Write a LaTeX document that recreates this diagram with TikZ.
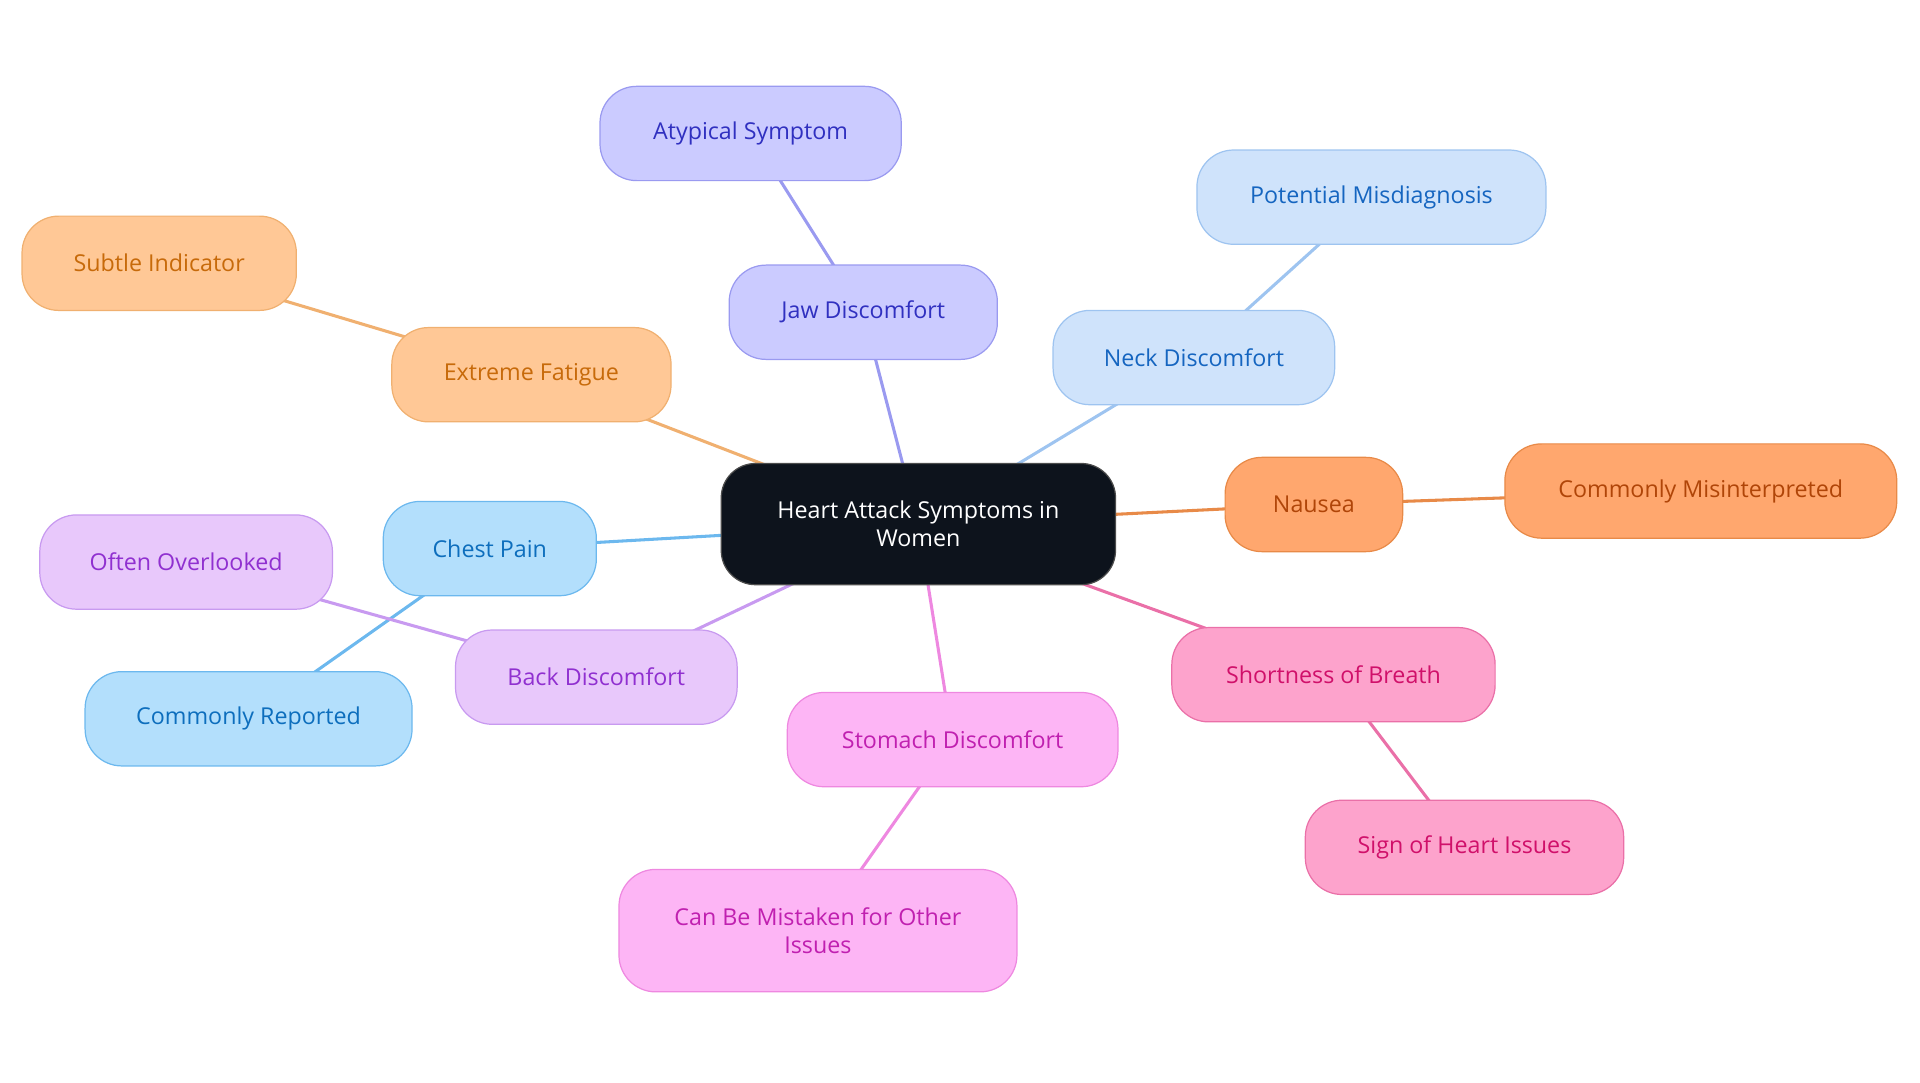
\documentclass[tikz,border=0pt]{standalone}
\usepackage{fontspec}
\setmainfont{Open Sans}
\begin{document}
\begin{tikzpicture}[x=1pt,y=-1pt,
 box/.style={draw,line width=1pt,rounded corners=30pt,minimum height=77pt,inner sep=0pt,align=center,font=\fontsize{19}{23}\selectfont},
 edge/.style={line width=2.5pt}]
\definecolor{oF}{HTML}{FFC896}\definecolor{oS}{HTML}{F0B070}\definecolor{oT}{HTML}{C76A0A}
\definecolor{vF}{HTML}{CBCBFF}\definecolor{vS}{HTML}{9A9AF0}\definecolor{vT}{HTML}{3030C0}
\definecolor{lF}{HTML}{CFE3FB}\definecolor{lS}{HTML}{9EC4F0}\definecolor{lT}{HTML}{1565C0}
\definecolor{bF}{HTML}{B3DFFC}\definecolor{bS}{HTML}{6CB8EE}\definecolor{bT}{HTML}{0D6EBD}
\definecolor{pF}{HTML}{E8C8FB}\definecolor{pS}{HTML}{C89AF0}\definecolor{pT}{HTML}{9030D0}
\definecolor{mF}{HTML}{FDB5F5}\definecolor{mS}{HTML}{EE88E0}\definecolor{mT}{HTML}{C020B0}
\definecolor{hF}{HTML}{FDA3CC}\definecolor{hS}{HTML}{EA70A8}\definecolor{hT}{HTML}{D0106A}
\definecolor{rF}{HTML}{FFA76E}\definecolor{rS}{HTML}{E88A48}\definecolor{rT}{HTML}{B04508}
\definecolor{cF}{HTML}{0D131C}
\tikzset{
 o/.style={box,fill=oF,draw=oS,text=oT},
 v/.style={box,fill=vF,draw=vS,text=vT},
 l/.style={box,fill=lF,draw=lS,text=lT},
 b/.style={box,fill=bF,draw=bS,text=bT},
 p/.style={box,fill=pF,draw=pS,text=pT},
 m/.style={box,fill=mF,draw=mS,text=mT},
 h/.style={box,fill=hF,draw=hS,text=hT},
 r/.style={box,fill=rF,draw=rS,text=rT}}
\useasboundingbox (0,0) rectangle (1568,884);
\coordinate (c0) at (750,428);
\coordinate (a1) at (613,109); \coordinate (a2) at (705,255);
\coordinate (b1) at (1120,161); \coordinate (b2) at (975,292);
\coordinate (d1) at (130,215); \coordinate (d2) at (434,306);
\coordinate (e1) at (400,448); \coordinate (e2) at (203,587);
\coordinate (f1) at (152,459); \coordinate (f2) at (487,553);
\coordinate (g1) at (778,604); \coordinate (g2) at (668,760);
\coordinate (k1) at (1073,412); \coordinate (k2) at (1389,401);
\coordinate (s1) at (1089,551); \coordinate (s2) at (1196,692);
\draw[edge,draw=vS] (c0)--(a2)--(a1);
\draw[edge,draw=lS] (c0)--(b2)--(b1);
\draw[edge,draw=oS] (c0)--(d2)--(d1);
\draw[edge,draw=bS] (c0)--(e1)--(e2);
\draw[edge,draw=pS] (c0)--(f2)--(f1);
\draw[edge,draw=mS] (c0)--(g1)--(g2);
\draw[edge,draw=rS] (c0)--(k1)--(k2);
\draw[edge,draw=hS] (c0)--(s1)--(s2);
\node[box,fill=cF,draw=gray!60!black,text=white,minimum width=322pt,minimum height=99pt,rounded corners=28pt] (c) at (c0) {Heart Attack Symptoms in\\Women};
\node[v,minimum width=246pt] (na1) at (a1) {Atypical Symptom};
\node[v,minimum width=219pt] (na2) at (a2) {Jaw Discomfort};
\node[l,minimum width=285pt] (nb1) at (b1) {Potential Misdiagnosis};
\node[l,minimum width=230pt] (nb2) at (b2) {Neck Discomfort};
\node[o,minimum width=224pt] (nd1) at (d1) {Subtle Indicator};
\node[o,minimum width=228pt] (nd2) at (d2) {Extreme Fatigue};
\node[b,minimum width=174pt] (ne1) at (e1) {Chest Pain};
\node[b,minimum width=267pt] (ne2) at (e2) {Commonly Reported};
\node[p,minimum width=239pt] (nf1) at (f1) {Often Overlooked};
\node[p,minimum width=230pt] (nf2) at (f2) {Back Discomfort};
\node[m,minimum width=270pt] (ng1) at (g1) {Stomach Discomfort};
\node[m,minimum width=325pt,minimum height=100pt] (ng2) at (g2) {Can Be Mistaken for Other\\Issues};
\node[r,minimum width=145pt] (nk1) at (k1) {Nausea};
\node[r,minimum width=320pt] (nk2) at (k2) {Commonly Misinterpreted};
\node[h,minimum width=264pt] (ns1) at (s1) {Shortness of Breath};
\node[h,minimum width=260pt] (ns2) at (s2) {Sign of Heart Issues};
\end{tikzpicture}
\end{document}
